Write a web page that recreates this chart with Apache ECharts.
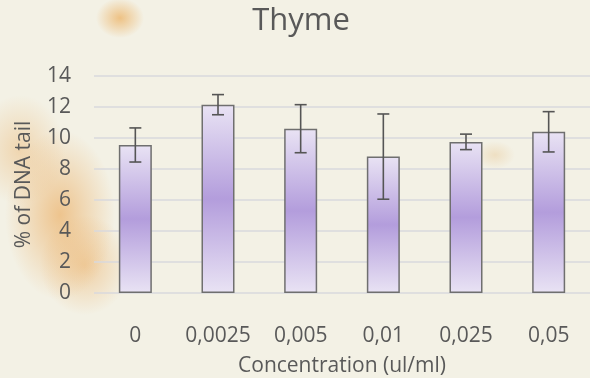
<!DOCTYPE html>
<html>
<head>
<meta charset="utf-8">
<script src="https://cdn.jsdelivr.net/npm/echarts@6/dist/echarts.min.js"></script>
<style>
  html, body { margin: 0; padding: 0; }
  body {
    width: 590px; height: 378px; overflow: hidden;
    background-color: #f3f1e5;
    background-image:
      radial-gradient(ellipse 24px 20px at 120px 18px, rgba(236,178,100,0.75), rgba(236,178,100,0) 100%),
      radial-gradient(ellipse 55px 85px at 60px 215px, rgba(235,172,95,0.65), rgba(235,172,95,0) 100%),
      radial-gradient(ellipse 45px 50px at 85px 265px, rgba(235,172,95,0.5), rgba(235,172,95,0) 100%),
      radial-gradient(ellipse 45px 55px at 20px 150px, rgba(235,180,110,0.45), rgba(235,180,110,0) 100%),
      radial-gradient(ellipse 20px 14px at 495px 155px, rgba(230,190,130,0.35), rgba(230,190,130,0) 100%);
  }
  #chart { width: 590px; height: 378px; }
</style>
</head>
<body>
<div id="chart"></div>
<script>
// Comet assay: tail DNA for each thyme concentration
const concentrations = ['0', '0,0025', '0,005', '0,01', '0,025', '0,05'];
const tailDna = [9.55, 12.15, 10.6, 8.8, 9.75, 10.4];
const tailDnaError = [1.1, 0.65, 1.55, 2.75, 0.5, 1.3];
const yTicks = { min: 0, max: 14, step: 2 };

const textColor = '#595959';
const font = '"Open Sans", "Liberation Sans", sans-serif';

const chart = echarts.init(document.getElementById('chart'), null, { renderer: 'canvas' });

const barFill = new echarts.graphic.LinearGradient(0, 0, 0, 1, [
  { offset: 0, color: '#e9e3f4' },
  { offset: 0.5, color: '#b39ddc' },
  { offset: 1, color: '#e9e3f4' }
]);

chart.setOption({
  backgroundColor: 'transparent',
  animation: false,
  title: {
    text: 'Thyme',
    left: 296,
    top: 1,
    textAlign: 'center',
    textStyle: { fontFamily: font, fontSize: 31, fontWeight: 'normal', color: textColor }
  },
  grid: { left: 94, right: 0, top: 76, bottom: 85, containLabel: false, outerBoundsMode: 'none' },
  xAxis: {
    type: 'category',
    data: concentrations,
    name: 'Concentration (ul/ml)',
    nameLocation: 'middle',
    nameGap: 63,
    nameTextStyle: { fontFamily: font, fontSize: 21, color: textColor },
    axisLine: { show: false },
    axisTick: { show: false },
    axisLabel: { fontFamily: font, fontSize: 21, color: textColor, margin: 33, interval: 0, hideOverlap: false }
  },
  yAxis: {
    type: 'value',
    min: yTicks.min,
    max: yTicks.max,
    interval: yTicks.step,
    name: '% of DNA tail',
    nameLocation: 'middle',
    nameGap: 59,
    nameRotate: 90,
    nameTextStyle: { fontFamily: font, fontSize: 21, color: textColor },
    axisLine: { show: false },
    axisTick: { show: false },
    axisLabel: { fontFamily: font, fontSize: 21, color: textColor, margin: 23 },
    splitLine: { lineStyle: { color: '#d9d8dc', width: 1.5 } }
  },
  series: [
    {
      type: 'bar',
      data: tailDna,
      barWidth: 33,
      itemStyle: { color: barFill, borderColor: '#6f6f6f', borderWidth: 1.5 }
    },
    {
      type: 'custom',
      data: tailDna.map((v, i) => [i, v - tailDnaError[i], v + tailDnaError[i]]),
      z: 10,
      renderItem: function (params, api) {
        const lo = api.coord([api.value(0), api.value(1)]);
        const hi = api.coord([api.value(0), api.value(2)]);
        const half = 6;
        const style = { stroke: '#555555', lineWidth: 1.6, fill: null };
        return {
          type: 'group',
          children: [
            { type: 'line', shape: { x1: hi[0], y1: hi[1], x2: lo[0], y2: lo[1] }, style },
            { type: 'line', shape: { x1: hi[0] - half, y1: hi[1], x2: hi[0] + half, y2: hi[1] }, style },
            { type: 'line', shape: { x1: lo[0] - half, y1: lo[1], x2: lo[0] + half, y2: lo[1] }, style }
          ]
        };
      }
    }
  ]
});
</script>
</body>
</html>
